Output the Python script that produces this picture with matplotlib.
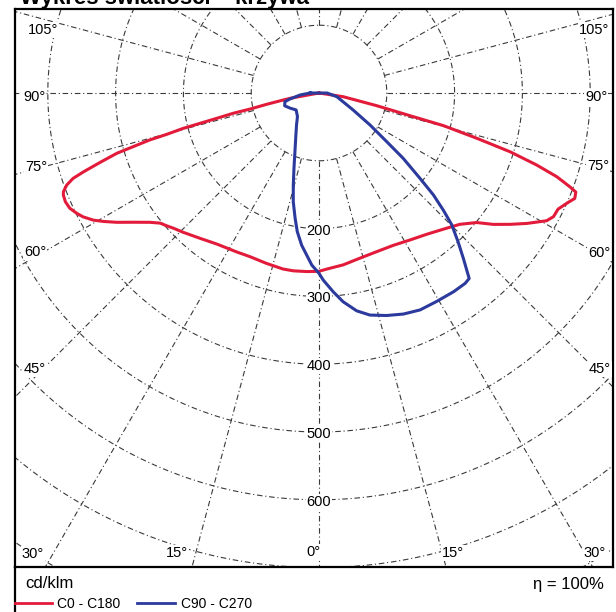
import numpy as np
import matplotlib
matplotlib.use("Agg")
from matplotlib import pyplot as plt
from matplotlib.lines import Line2D

plt.rcParams['font.family'] = ['Liberation Sans', 'DejaVu Sans']

# luminous intensity, cd/klm, angle measured from nadir (deg)
c0_angles = [0, 2.5, 8, 13.9, 20, 26, 31.8, 37.3, 42.4, 47, 50.6, 53, 55.5, 57.9,
             60.7, 62.2, 64.1, 66, 67.6, 68.9, 69.5, 70.6, 71.7, 72.9, 74,
             75.3, 76, 77.6, 81.3, 90]
c0_values = [263, 260, 256, 251, 249, 250, 255, 262, 272, 284, 301, 322, 342, 362,
             385, 391, 392, 400, 408, 406, 395, 372, 338, 295, 242,
             190, 138, 87, 36, 0]

c180_angles = [0, 3.9, 8.2, 11.5, 17.1, 22.9, 27.4, 34.1, 39.3, 44.3, 47.1, 48.9,
               50.7, 52.6, 55.2, 57.4, 59.2, 60.6, 62.3, 63.6, 65.2, 66.8, 68.25,
               68.9, 69.96, 70.85, 71.5, 72.4, 73.4, 73.9, 74.5, 74.8, 75.4, 75.7,
               76.1, 76.7, 76.9, 77.8, 78.9, 79.6, 90]
c180_values = [263, 264, 265, 265, 263, 262, 264, 269, 277, 287, 293, 298,
               303, 314, 334, 354, 370, 382, 393, 399, 405, 407, 406,
               404, 396, 384, 366, 339, 311, 285, 259, 233, 207, 181,
               155, 130, 104, 79, 54, 43, 0]

c90_angles = [0, 1.3, 4.1, 6.6, 9.8, 12.9, 16.9, 20.9, 25, 29.4, 34.1, 37.5, 39,
              39.7, 41.1, 43.1, 45.2, 46.7, 48.3, 49.8, 52.2, 54.3, 57.9, 63.6,
              78.2, 90]
c90_values = [266, 276, 294, 310, 326, 336, 343, 349, 353, 353, 354, 354, 352,
              342, 324, 300, 276, 252, 226, 195, 157, 123, 89, 56,
              27, 12]

c270_angles = [0, 2.4, 4.3, 6.5, 8.9, 10.8, 13.3, 15.6, 18.4, 22.2, 28.7, 34.9,
               42.5, 53.5, 62.2, 69.5, 75.6, 78.3, 84, 90]
c270_values = [266, 254, 240, 226, 207, 188, 165, 141, 117, 94, 71, 58,
               47, 42, 48, 54, 52, 44, 28, 13]

rings = [100, 200, 300, 400, 500, 600, 700, 800]
ring_labels = [200, 300, 400, 500, 600]
spokes = list(range(0, 181, 15))

red = '#e31b3b'
blue = '#2b3a9c'
grid_col = '#3a3a3a'


def to_xy(angles, values, side):
    t = np.radians(angles)
    r = np.asarray(values, float)
    return side * r * np.sin(t), -r * np.cos(t)


def curve(left_a, left_v, right_a, right_v):
    xl, yl = to_xy(left_a, left_v, -1)
    xr, yr = to_xy(right_a, right_v, 1)
    x = np.concatenate([xl[::-1], xr, xl[-1:]])
    y = np.concatenate([yl[::-1], yr, yl[-1:]])
    return x, y


W, H = 616, 612
fig = plt.figure(figsize=(W / 100, H / 100), dpi=100)

# diagram frame and pole in pixels
fx0, fx1, fy0, fy1 = 15, 613, 9, 567
ox, oy = 319, 93
px = 0.678  # pixels per cd/klm

ax = fig.add_axes([fx0 / W, 1 - fy1 / H, (fx1 - fx0) / W, (fy1 - fy0) / H])
ax.set_xlim((fx0 - ox) / px, (fx1 - ox) / px)
ax.set_ylim(-(fy1 - oy) / px, (oy - fy0) / px)
ax.set_xticks([])
ax.set_yticks([])
for s in ax.spines.values():
    s.set_linewidth(1.6)
    s.set_color('black')

# grid
ls = (0, (5, 2.5, 1, 2.5))
ring = np.linspace(0, 2 * np.pi, 721)
for r in rings:
    ax.plot(r * np.sin(ring), r * np.cos(ring), color=grid_col, lw=0.8, ls=ls, zorder=1)
for a in spokes:
    t = np.radians(a)
    sides = (1,) if a in (0, 180) else (-1, 1)
    for side in sides:
        ax.plot([side * 100 * np.sin(t), side * 1200 * np.sin(t)],
                [-100 * np.cos(t), -1200 * np.cos(t)],
                color=grid_col, lw=0.8, ls=ls, zorder=1)

for v in ring_labels:
    ax.text(0, -v - 3, str(v), ha='center', va='center', fontsize=10.5, zorder=2,
            bbox=dict(fc='white', ec='none', pad=0.6))

# curves
x, y = curve(c180_angles, c180_values, c0_angles, c0_values)
ax.plot(x, y, color=red, lw=2.2, zorder=3, solid_joinstyle='round')
x, y = curve(c270_angles, c270_values, c90_angles, c90_values)
ax.plot(x, y, color=blue, lw=2.2, zorder=4, solid_joinstyle='round')

# angle labels (pixel positions)
angle_labels = [
    ("105°", 43, 30), ("90°", 34, 97), ("75°", 36, 167), ("60°", 35, 252), ("45°", 35, 369),
    ("105°", 594, 30), ("90°", 596, 97), ("75°", 598, 166), ("60°", 599, 253), ("45°", 600, 369),
    ("30°", 33, 554), ("15°", 177, 553), ("0°", 313, 552), ("15°", 453, 553), ("30°", 595, 553),
]
for txt, lx, ly in angle_labels:
    fig.text(lx / W, 1 - ly / H, txt, ha='center', va='center', fontsize=10.5, zorder=5,
             bbox=dict(fc='white', ec='none', pad=0.4))

# title, cut by the top of the scan
fig.text(20 / W, 1 - 4 / H, "Wykres światłości – krzywa", fontsize=16,
         fontweight='bold', va='baseline')

# bottom area
fig.add_artist(Line2D([fx0 / W, fx0 / W], [0, 1 - fy1 / H], color='black', lw=1.6))
fig.text(25 / W, 1 - 584 / H, "cd/klm", fontsize=12, va='center', ha='left')
fig.text(604 / W, 1 - 584 / H, "η = 100%", fontsize=12, va='center', ha='right')
fig.add_artist(Line2D([15 / W, 52 / W], [1 - 603 / H] * 2, color=red, lw=2))
fig.text(57 / W, 1 - 604 / H, "C0 - C180", fontsize=10, va='center', ha='left')
fig.add_artist(Line2D([137 / W, 175 / W], [1 - 603 / H] * 2, color=blue, lw=2))
fig.text(181 / W, 1 - 604 / H, "C90 - C270", fontsize=10, va='center', ha='left')

plt.savefig("out.png", dpi=100)
